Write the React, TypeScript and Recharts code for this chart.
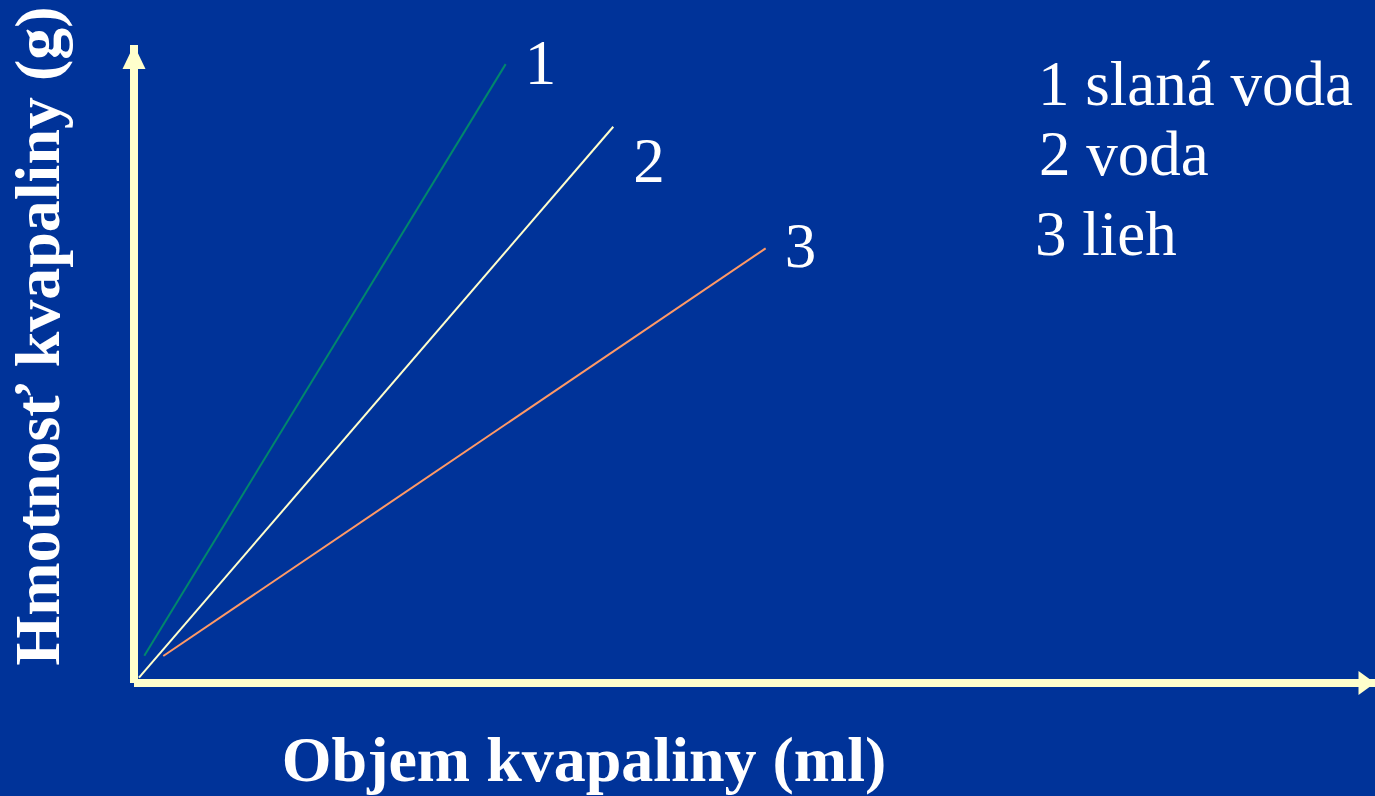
import React from 'react';
import { LineChart, Line, XAxis, YAxis, ReferenceDot, LabelList, Legend } from 'recharts';

// Values (arbitrary units, axes 0..100, no ticks)
const seriesNames = ['slaná voda', 'voda', 'lieh'];
const seriesIds = ['1', '2', '3'];
const saltWater = [
  { x: 0.83, y: 4.28 },
  { x: 29.95, y: 97.0 },
];
const water = [
  { x: 0.4, y: 0.83 },
  { x: 38.62, y: 87.19 },
];
const alcohol = [
  { x: 2.36, y: 4.23 },
  { x: 50.9, y: 68.13 },
];
const xTitle = 'Objem kvapaliny (ml)';
const yTitle = 'Hmotnosť kvapaliny (g)';

const BG = '#003399';
const AXIS = '#FFFFCC';
const FONT = '"Liberation Serif", "Times New Roman", serif';

const seriesStyle = [
  { color: '#00876c', dx: 19, dy: 20 },
  { color: '#FFFFCC', dx: 20, dy: 55 },
  { color: '#FF9966', dx: 19, dy: 19 },
];
const seriesData = [saltWater, water, alcohol];

const endLabel = (i: number, last: number) => (props: any) => {
  if (props.index !== last) return null;
  const st = seriesStyle[i];
  return (
    <text x={props.x + st.dx} y={props.y + st.dy} fill="#FFFFFF" style={{ fontFamily: FONT, fontSize: 63 }}>
      {seriesIds[i]}
    </text>
  );
};

const UpArrow = (props: any) => {
  const { cx, cy } = props;
  return <polygon points={`${cx},${cy} ${cx - 11.5},${cy + 24} ${cx + 11.5},${cy + 24}`} fill={AXIS} />;
};
const RightArrow = (props: any) => {
  const { cx, cy } = props;
  return <polygon points={`${cx},${cy} ${cx - 16.5},${cy - 12} ${cx - 16.5},${cy + 12}`} fill={AXIS} />;
};

const legendOffsets = [
  { x: 8, y: 105 },
  { x: 9, y: 175 },
  { x: 5, y: 255 },
];

const LegendContent = () => (
  <svg width={345} height={280} style={{ display: 'block' }}>
    {seriesNames.map((n, i) => (
      <text key={n} x={legendOffsets[i].x} y={legendOffsets[i].y} fill="#FFFFFF" style={{ fontFamily: FONT, fontSize: 63 }}>
        {`${seriesIds[i]} ${n}`}
      </text>
    ))}
  </svg>
);

export default function App() {
  return (
    <div style={{ position: 'absolute', left: 0, top: 0, width: 1375, height: 796, background: BG, overflow: 'hidden' }}>
      <LineChart width={1375} height={796} margin={{ top: 45, right: 0, bottom: 0, left: 0 }}>
        <XAxis
          type="number"
          dataKey="x"
          domain={[0, 100]}
          height={113}
          tick={false}
          tickLine={false}
          axisLine={{ stroke: AXIS, strokeWidth: 8 }}
          label={{
            content: (p: any) => (
              <text x={584} y={781} textAnchor="middle" fill="#FFFFFF" fontFamily={FONT} fontWeight="bold" fontSize={64}>
                {xTitle}
              </text>
            ),
          }}
        />
        <YAxis
          type="number"
          dataKey="y"
          domain={[0, 100]}
          width={134}
          tick={false}
          tickLine={false}
          axisLine={{ stroke: AXIS, strokeWidth: 8 }}
          label={{
            content: (p: any) => (
              <text
                x={59}
                y={336}
                transform="rotate(-90 59 336)"
                textAnchor="middle"
                fill="#FFFFFF"
                fontFamily={FONT}
                fontWeight="bold"
                fontSize={64}
              >
                {yTitle}
              </text>
            ),
          }}
        />
        <Legend
          layout="horizontal"
          verticalAlign="middle"
          align="center"
          content={<LegendContent />}
          wrapperStyle={{ position: 'absolute', top: 0, left: 1030, width: 345, height: 280 }}
        />
        {seriesData.map((d, i) => (
          <Line
            key={seriesNames[i]}
            name={seriesNames[i]}
            data={d}
            dataKey="y"
            type="linear"
            stroke={seriesStyle[i].color}
            strokeWidth={2}
            dot={false}
            activeDot={false}
            isAnimationActive={false}
          >
            <LabelList dataKey="y" content={endLabel(i, d.length - 1)} />
          </Line>
        ))}
        <ReferenceDot x={0} y={100} ifOverflow="visible" shape={UpArrow} />
        <ReferenceDot x={100} y={0} ifOverflow="visible" shape={RightArrow} />
      </LineChart>
    </div>
  );
}
